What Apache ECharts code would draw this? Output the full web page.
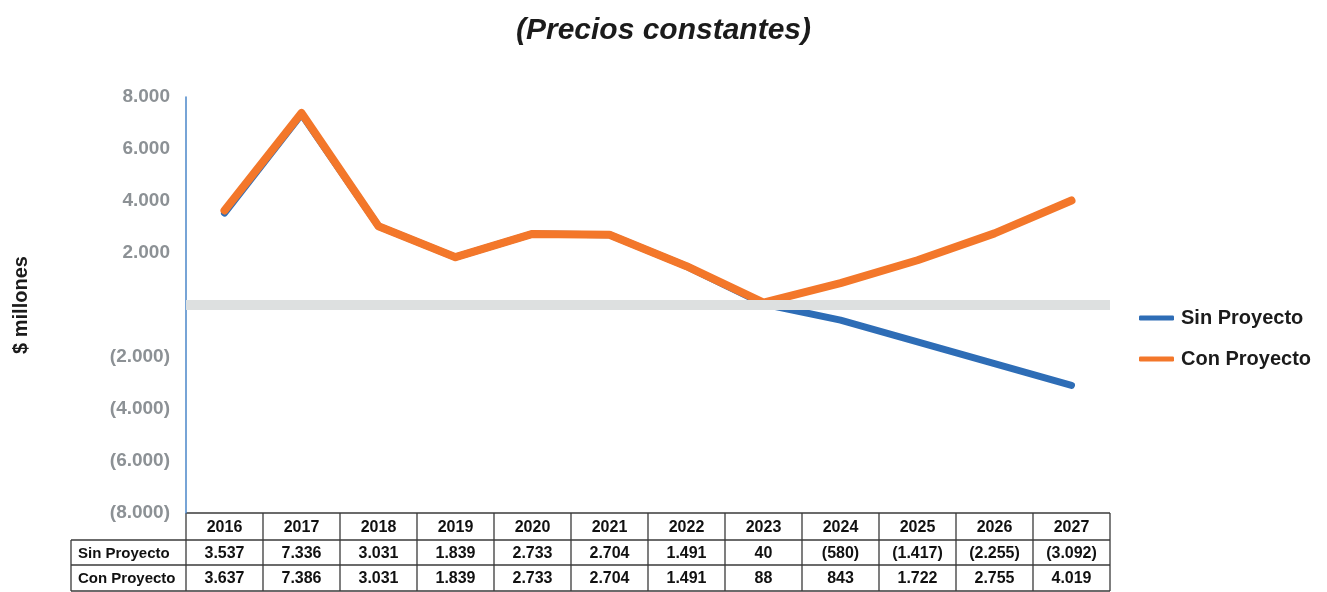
<!DOCTYPE html>
<html>
<head>
<meta charset="utf-8">
<script src="https://cdn.jsdelivr.net/npm/echarts@6/dist/echarts.min.js"></script>
<style>
html,body{margin:0;padding:0;background:#fff;}
#c{width:1327px;height:592px;}
</style>
</head>
<body>
<div id="c"></div>
<script>
var titleText = '(Precios constantes)';
var yAxisName = '$ millones';
var years = ['2016','2017','2018','2019','2020','2021','2022','2023','2024','2025','2026','2027'];
var seriesNames = ['Sin Proyecto','Con Proyecto'];
var sinProyecto = [3537, 7336, 3031, 1839, 2733, 2704, 1491, 40, -580, -1417, -2255, -3092];
var conProyecto = [3637, 7386, 3031, 1839, 2733, 2704, 1491, 88, 843, 1722, 2755, 4019];

var FONT = '"Liberation Sans", Arial, sans-serif';

function fmt(v){
  var a = Math.abs(v);
  var s = String(a).replace(/\B(?=(\d{3})+(?!\d))/g, '.');
  return v < 0 ? '(' + s + ')' : s;
}

var chart = echarts.init(document.getElementById('c'));
var option = {
  backgroundColor: '#fff',
  animation: false,
  title: {
    text: titleText,
    left: 'center',
    top: 11,
    textStyle: {fontFamily: FONT, fontSize: 30, fontWeight: 'bold', fontStyle: 'italic', color: '#1b1b1b'}
  },
  legend: {
    orient: 'vertical',
    left: 1134,
    top: 303,
    itemGap: 21,
    itemWidth: 35,
    itemHeight: 5,
    icon: 'roundRect',
    data: seriesNames,
    textStyle: {fontFamily: FONT, fontSize: 20, fontWeight: 'bold', color: '#1b1b1b', padding: [0,0,0,2]}
  },
  grid: {left: 186, right: 217, top: 97, bottom: 79},
  xAxis: {
    type: 'category',
    data: years,
    boundaryGap: true,
    axisLine: {show: false},
    axisTick: {show: false},
    axisLabel: {show: false},
    splitLine: {show: false}
  },
  yAxis: {
    type: 'value',
    min: -8000,
    max: 8000,
    interval: 2000,
    name: yAxisName,
    nameLocation: 'middle',
    nameRotate: 90,
    nameGap: 155,
    nameTextStyle: {fontFamily: FONT, fontSize: 20, fontWeight: 'bold', color: '#1b1b1b'},
    axisLine: {show: true, lineStyle: {color: '#4a86c8', width: 1.5}},
    axisTick: {show: false},
    splitLine: {show: false},
    axisLabel: {
      margin: 16,
      fontFamily: FONT, fontSize: 19, fontWeight: 'bold', color: '#8c9195',
      formatter: function(v){ return v === 0 ? '' : fmt(v); }
    }
  },
  series: [
    {
      name: '__zero',
      type: 'line',
      data: [],
      z: 1,
      silent: true,
      markLine: {
        silent: true,
        symbol: 'none',
        label: {show: false},
        lineStyle: {color: '#dde0e0', width: 10, type: 'solid'},
        data: [{yAxis: 0}]
      }
    },
    {
      name: seriesNames[0],
      type: 'line',
      data: sinProyecto,
      z: 3,
      showSymbol: false,
      symbol: 'none',
      color: '#2e6db6',
      lineStyle: {width: 7, color: '#2e6db6', cap: 'round', join: 'round'}
    },
    {
      name: seriesNames[1],
      type: 'line',
      data: conProyecto,
      z: 4,
      showSymbol: false,
      symbol: 'none',
      color: '#f3772a',
      lineStyle: {width: 8, color: '#f3772a', cap: 'round', join: 'round'}
    }
  ]
};
chart.setOption(option);

// Data table under the plot, aligned to the category axis
var c0 = chart.convertToPixel({xAxisIndex: 0}, 0);
var c1 = chart.convertToPixel({xAxisIndex: 0}, 1);
var bw = c1 - c0;
var rowY = [513, 540, 565, 591];
var labelLeft = 71;
var els = [];
var lineStyle = {stroke: '#3a3a3a', lineWidth: 1.3};
function hline(x1, x2, y){ els.push({type:'line', shape:{x1:x1,y1:y,x2:x2,y2:y}, style: lineStyle, silent:true}); }
function vline(x, y1, y2){ els.push({type:'line', shape:{x1:x,y1:y1,x2:x,y2:y2}, style: lineStyle, silent:true}); }
function txt(x, y, s, size, align){
  els.push({type:'text', x:x, y:y, silent:true, style:{text:s, fontFamily:FONT, fontSize:size, fontWeight:'bold', fill:'#111', align:align||'center', verticalAlign:'middle'}});
}
var leftEdge = c0 - bw/2;
var rightEdge = chart.convertToPixel({xAxisIndex: 0}, years.length - 1) + bw/2;
hline(leftEdge, rightEdge, rowY[0]);
hline(labelLeft, rightEdge, rowY[1]);
hline(labelLeft, rightEdge, rowY[2]);
hline(labelLeft, rightEdge, rowY[3]);
vline(labelLeft, rowY[1], rowY[3]);
for (var i = 0; i <= years.length; i++) {
  vline(leftEdge + i*bw, rowY[0], rowY[3]);
}
var rows = [sinProyecto, conProyecto];
for (var i = 0; i < years.length; i++) {
  var cx = chart.convertToPixel({xAxisIndex: 0}, i);
  txt(cx, (rowY[0]+rowY[1])/2 + 1, years[i], 16);
  txt(cx, (rowY[1]+rowY[2])/2 + 1, fmt(rows[0][i]), 16);
  txt(cx, (rowY[2]+rowY[3])/2 + 1, fmt(rows[1][i]), 16);
}
txt(labelLeft + 7, (rowY[1]+rowY[2])/2 + 1, seriesNames[0], 15, 'left');
txt(labelLeft + 7, (rowY[2]+rowY[3])/2 + 1, seriesNames[1], 15, 'left');
chart.setOption({graphic: {elements: els}});
</script>
</body>
</html>
